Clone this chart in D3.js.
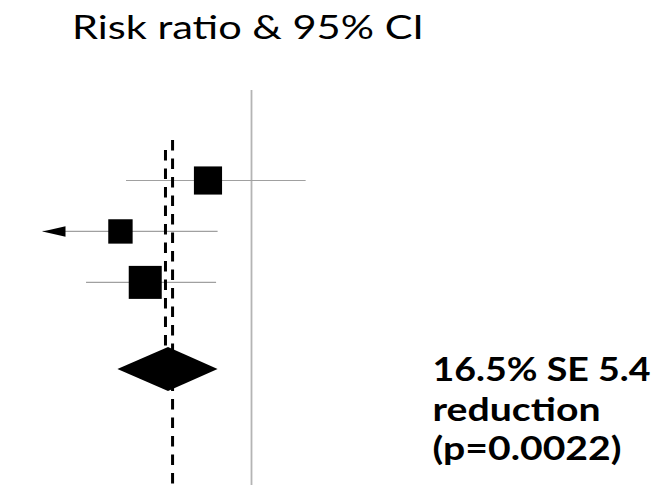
<!DOCTYPE html>
<html>
<head>
<meta charset="utf-8">
<script src="https://cdn.jsdelivr.net/npm/d3@7"></script>
<style>
  html, body { margin: 0; padding: 0; background: #fff; }
  svg { display: block; }
  text { font-family: Lato, "Open Sans", "Noto Sans", sans-serif; fill: #000; }
</style>
</head>
<body>
<svg id="chart" width="670" height="488"></svg>
<script>
// Individual trials: risk ratio, 95% CI bounds and weight (%)
const trialRow  = [0, 1, 2];
const trialRR   = [0.914, 0.741, 0.790];
const trialLow  = [0.752, 0.550, 0.673];
const trialHigh = [1.107, 0.933, 0.930];
const trialWeight = [32, 24, 44];

// Pooled estimate (16.5% reduction) and its interval
const pooledReduction = 16.5;
const pooledSE = 5.4;
const pooledP = "0.0022";
const pooledLow = 0.735;
const pooledHigh = 0.933;

// Reference lines: null effect and two dashed overall-effect markers
const nullRR = 1.0;
const dashedRR = [0.830, 0.844];

// Text
const titleText = "Risk ratio & 95% CI";
const summaryLines = [
  `${pooledReduction}% SE ${pooledSE}`,
  "reduction",
  `(p=${pooledP})`
];

const svg = d3.select("#chart");

// Horizontal risk-ratio scale and the left display limit (arrow beyond it)
const x = d3.scaleLinear().domain([0.6, 1.1]).range([49.1, 302.1]);
const displayMin = 0.587;
// Vertical row positions (pooled diamond sits at 3.7)
const y = d3.scaleLinear().domain([0, 3.7]).range([180.5, 369]);
const pooledRow = 3.7;
// Square size from weight
const size = d3.scaleSqrt().domain([0, 44]).range([0, 33]);

const pooledRR = 1 - pooledReduction / 100;

// Null line
svg.append("line")
  .attr("x1", x(nullRR)).attr("x2", x(nullRR))
  .attr("y1", 90).attr("y2", 485)
  .attr("stroke", "#b4b4b4").attr("stroke-width", 1.8);

const trials = trialRow.map((r, i) => ({
  row: r, rr: trialRR[i], lo: trialLow[i], hi: trialHigh[i], w: trialWeight[i]
}));

// Confidence interval lines
svg.selectAll("line.ci").data(trials).join("line")
  .attr("class", "ci")
  .attr("x1", d => x(Math.max(d.lo, displayMin)))
  .attr("x2", d => x(d.hi))
  .attr("y1", d => y(d.row)).attr("y2", d => y(d.row))
  .attr("stroke", "#a0a0a0").attr("stroke-width", 1.2);

// Arrowheads where an interval runs past the left limit
svg.selectAll("path.arrow").data(trials.filter(d => d.lo < displayMin)).join("path")
  .attr("class", "arrow")
  .attr("d", d => {
    const tip = x(displayMin), cy = y(d.row);
    return `M${tip},${cy} L${tip + 23},${cy - 5.3} L${tip + 23},${cy + 5.3} Z`;
  })
  .attr("fill", "#000");

// Dashed reference lines
const dashTop = [150, 140];
const dashBottom = [y(pooledRow) - 22, 485];
svg.selectAll("line.dash").data(dashedRR).join("line")
  .attr("class", "dash")
  .attr("x1", d => x(d)).attr("x2", d => x(d))
  .attr("y1", (d, i) => dashTop[i]).attr("y2", (d, i) => dashBottom[i])
  .attr("stroke", "#000").attr("stroke-width", 3)
  .attr("stroke-dasharray", "10.5 8");

// Trial squares
svg.selectAll("rect.sq").data(trials).join("rect")
  .attr("class", "sq")
  .attr("x", d => x(d.rr) - size(d.w) / 2)
  .attr("y", d => y(d.row) - size(d.w) / 2)
  .attr("width", d => size(d.w))
  .attr("height", d => size(d.w))
  .attr("fill", "#000");

// Pooled diamond
const cy = y(pooledRow), half = 22;
svg.append("path")
  .attr("d", `M${x(pooledLow)},${cy} L${x(pooledRR)},${cy - half} L${x(pooledHigh)},${cy} L${x(pooledRR)},${cy + half} Z`)
  .attr("fill", "#000");

// Fit a text element to a target width, compressing glyphs if it runs wide
function fitWidth(sel, target) {
  const w = sel.node().getComputedTextLength();
  if (Math.abs(w - target) > 2) {
    sel.attr("textLength", target).attr("lengthAdjust", "spacingAndGlyphs");
  }
}

// Title
const title = svg.append("text")
  .attr("x", 72).attr("y", 39.3)
  .style("font-size", "32px")
  .text(titleText);
fitWidth(title, 352);

// Summary text block (one text element, one line per tspan)
const summary = svg.append("text")
  .style("font-weight", "bold")
  .style("font-size", "32.5px");
const lineWidths = [218, 168, 189];
summary.selectAll("tspan").data(summaryLines).join("tspan")
  .attr("x", 432.5)
  .attr("y", (d, i) => 380.7 + i * 39.8)
  .text(d => d)
  .each(function (d, i) {
    const w = this.getComputedTextLength();
    if (Math.abs(w - lineWidths[i]) > 2) {
      d3.select(this).attr("textLength", lineWidths[i]).attr("lengthAdjust", "spacingAndGlyphs");
    }
  });
</script>
</body>
</html>
